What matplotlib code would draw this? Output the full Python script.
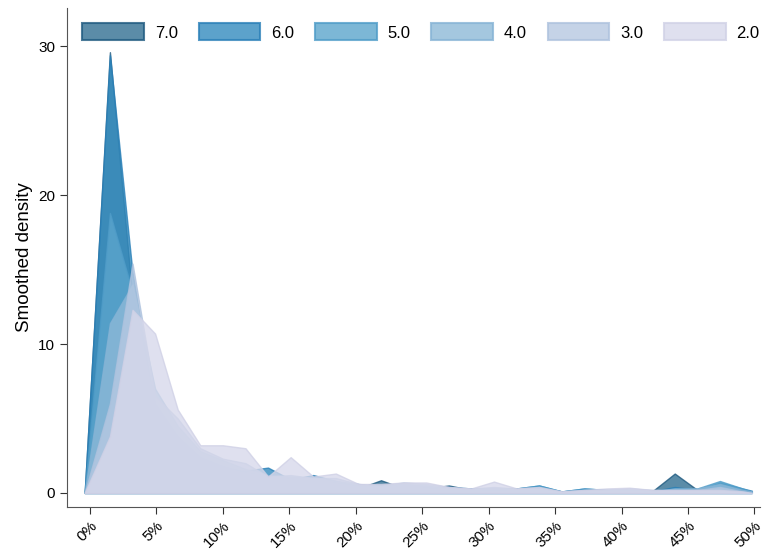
import matplotlib.pyplot as plt
from matplotlib.ticker import FuncFormatter
from matplotlib.patches import Patch

plt.rcParams['font.family'] = ['Liberation Sans', 'DejaVu Sans']

# common evaluation grid (percent)
x = [-0.4, 1.5, 3.2, 4.9, 6.6, 8.3, 10.0, 11.7, 13.4, 15.1, 16.8, 18.5, 20.2, 21.9, 23.6,
     25.3, 27.0, 28.7, 30.4, 32.1, 33.8, 35.5, 37.2, 38.9, 40.6, 42.3, 44.0, 45.7, 47.4, 49.1, 49.8]

groups = ['7.0', '6.0', '5.0', '4.0', '3.0', '2.0']

dens_7 = [0, 29.6, 13.0, 4.5, 2.6, 1.8, 1.4, 1.0, 0.8, 0.5, 0.5, 0.4, 0.3, 0.85, 0.3, 0.3,
          0.5, 0.2, 0.2, 0.2, 0.3, 0.1, 0.2, 0.1, 0.1, 0.1, 1.3, 0.2, 0.3, 0.1, 0.1]
dens_6 = [0, 29.4, 14.8, 5.5, 3.5, 2.2, 1.6, 1.5, 1.7, 0.9, 1.2, 0.8, 0.5, 0.4, 0.5, 0.4,
          0.4, 0.3, 0.3, 0.3, 0.5, 0.1, 0.3, 0.2, 0.2, 0.1, 0.4, 0.2, 0.7, 0.3, 0.15]
dens_5 = [0, 18.8, 13.5, 6.0, 3.8, 2.4, 1.8, 1.4, 1.2, 1.0, 1.1, 0.7, 0.5, 0.5, 0.6, 0.4,
          0.3, 0.3, 0.2, 0.3, 0.5, 0.1, 0.3, 0.2, 0.2, 0.1, 0.3, 0.3, 0.8, 0.3, 0.1]
dens_4 = [0, 11.4, 14.0, 7.0, 4.5, 2.8, 2.2, 1.6, 1.2, 1.1, 1.0, 0.8, 0.6, 0.4, 0.6, 0.5,
          0.3, 0.3, 0.3, 0.3, 0.4, 0.1, 0.2, 0.2, 0.2, 0.1, 0.3, 0.3, 0.6, 0.2, 0.1]
dens_3 = [0, 6.0, 15.4, 6.5, 5.0, 3.0, 2.3, 2.0, 1.1, 1.2, 1.0, 1.0, 0.6, 0.5, 0.7, 0.6,
          0.4, 0.3, 0.4, 0.3, 0.3, 0.1, 0.2, 0.2, 0.3, 0.2, 0.2, 0.2, 0.4, 0.1, 0.0]
dens_2 = [0, 3.8, 12.3, 10.7, 5.6, 3.2, 3.2, 3.0, 1.1, 2.4, 1.1, 1.3, 0.6, 0.6, 0.7, 0.7,
          0.4, 0.3, 0.76, 0.3, 0.4, 0.1, 0.2, 0.3, 0.35, 0.2, 0.2, 0.2, 0.2, 0.1, 0.0]

series = [dens_7, dens_6, dens_5, dens_4, dens_3, dens_2]
fill_colors = ['#326f93', '#338bbe', '#5ba5cc', '#8db9d8', '#b7c9e2', '#d8d9eb']
edge_colors = ['#1f5a80', '#2a80b8', '#4f9cc8', '#86b3d5', '#aec2de', '#d0d1e6']

fig = plt.figure(figsize=(7.63, 5.51), dpi=100)
ax = fig.add_axes([0.0878, 0.08, 0.908, 0.905])

handles = []
for g, y, fc, ec in zip(groups, series, fill_colors, edge_colors):
    ax.fill_between(x, y, 0, facecolor=fc, alpha=0.8, edgecolor=ec, linewidth=1)
    handles.append(Patch(facecolor=fc, edgecolor=ec, alpha=0.8, linewidth=1.5, label=g))

ax.set_xlim(-1.73, 50.4)
ax.set_ylim(-0.94, 32.55)
ax.set_xticks(range(0, 51, 5))
ax.xaxis.set_major_formatter(FuncFormatter(lambda v, p: f'{v:.0f}%'))
ax.set_yticks([0, 10, 20, 30])
for lab in ax.get_xticklabels():
    lab.set_rotation(45)
    lab.set_ha('right')
    lab.set_rotation_mode('anchor')
ax.tick_params(labelsize=11, length=5, color='#333333')
ax.set_ylabel('Smoothed density', fontsize=13.5)

ax.spines['top'].set_visible(False)
ax.spines['right'].set_visible(False)
ax.spines['left'].set_color('#555555')
ax.spines['bottom'].set_color('#555555')

fig.legend(handles=handles, loc='center left', bbox_to_anchor=(0.108, 0.942), ncol=6,
           frameon=False, fontsize=12, handlelength=3.7, handleheight=1.2,
           handletextpad=0.65, columnspacing=1.25, borderaxespad=0, borderpad=0)

plt.savefig('out.png', dpi=100)
